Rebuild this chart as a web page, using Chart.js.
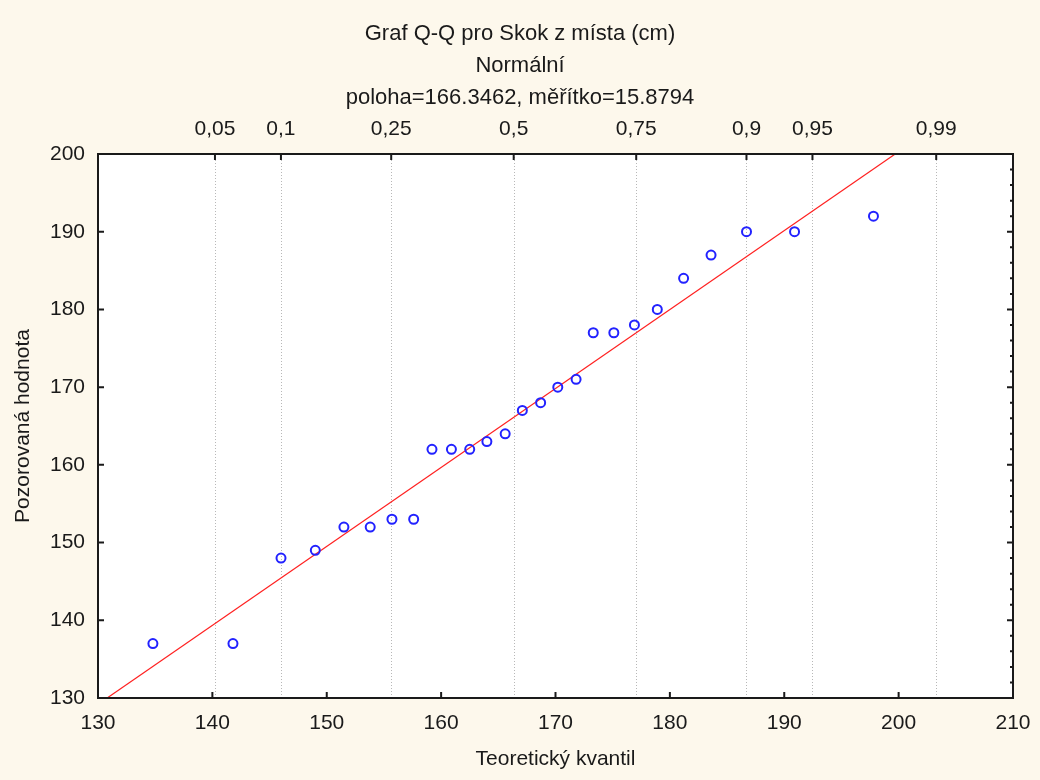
<!DOCTYPE html>
<html lang="cs">
<head>
<meta charset="utf-8">
<title>Graf Q-Q pro Skok z místa (cm)</title>
<script src="https://cdn.jsdelivr.net/npm/chart.js@4/dist/chart.umd.min.js"></script>
<style>
  html, body { margin: 0; padding: 0; background: #fdf8ec; }
  #wrap { width: 1040px; height: 780px; }
</style>
</head>
<body>
<div id="wrap"><canvas id="qq" width="1040" height="780"></canvas></div>
<script>
// teoretické kvantily (osa x) a pozorované hodnoty (osa y)
const theoretical = [134.8, 141.8, 146.0, 149.0, 151.5, 153.8, 155.7, 157.6, 159.2, 160.9, 162.5,
  164.0, 165.6, 167.1, 168.7, 170.2, 171.8, 173.3, 175.1, 176.9, 178.9, 181.2, 183.6, 186.7, 190.9, 197.8];
const observed = [137, 137, 148, 149, 152, 152, 153, 153, 162, 162, 162,
  163, 164, 167, 168, 170, 171, 177, 177, 178, 180, 184, 187, 190, 190, 192];

// referenční přímka
const lineX = [130.8, 199.7];
const lineY = [130, 200];

// parametry normálního rozdělení a pravděpodobnosti na horní ose
const poloha = 166.3462;
const meritko = 15.8794;
const probLabels = ['0,05', '0,1', '0,25', '0,5', '0,75', '0,9', '0,95', '0,99'];
const probZ = [-1.6449, -1.2816, -0.6745, 0, 0.6745, 1.2816, 1.6449, 2.3263];
const probPos = probZ.map(z => poloha + meritko * z);

const FONT = 'Liberation Sans, Arial, sans-serif';

// pozadí, tečkované čáry kvantilů, rámeček a dovnitř mířící značky os
const qqFrame = {
  id: 'qqFrame',
  beforeDraw(chart) {
    const { ctx, chartArea: a } = chart;
    ctx.save();
    ctx.fillStyle = '#fdf8ec';
    ctx.fillRect(0, 0, chart.width, chart.height);
    ctx.fillStyle = '#ffffff';
    ctx.fillRect(a.left, a.top, a.right - a.left, a.bottom - a.top);
    ctx.restore();
  },
  beforeDatasetsDraw(chart) {
    const { ctx, chartArea: a } = chart;
    const x = chart.scales.x;
    ctx.save();
    ctx.strokeStyle = '#b8b8b8';
    ctx.lineWidth = 1;
    ctx.setLineDash([1, 2]);
    probPos.forEach(v => {
      const px = Math.round(x.getPixelForValue(v)) + 0.5;
      ctx.beginPath();
      ctx.moveTo(px, a.top);
      ctx.lineTo(px, a.bottom);
      ctx.stroke();
    });
    ctx.restore();
  },
  afterDraw(chart) {
    const { ctx, chartArea: a } = chart;
    const x = chart.scales.x;
    const y = chart.scales.y;
    ctx.save();
    ctx.strokeStyle = '#1a1a1a';
    ctx.lineWidth = 2;
    ctx.strokeRect(a.left, a.top, a.right - a.left, a.bottom - a.top);

    const tick = 6;
    ctx.beginPath();
    // spodní osa
    for (let v = x.min + 10; v < x.max; v += 10) {
      const px = x.getPixelForValue(v);
      ctx.moveTo(px, a.bottom);
      ctx.lineTo(px, a.bottom - tick);
    }
    // horní osa
    probPos.forEach(v => {
      const px = x.getPixelForValue(v);
      ctx.moveTo(px, a.top);
      ctx.lineTo(px, a.top + tick);
    });
    // levá osa
    for (let v = y.min + 10; v < y.max; v += 10) {
      const py = y.getPixelForValue(v);
      ctx.moveTo(a.left, py);
      ctx.lineTo(a.left + tick, py);
    }
    // pravá osa s vedlejšími značkami
    for (let v = y.min + 2; v < y.max; v += 2) {
      const py = y.getPixelForValue(v);
      const len = (v - y.min) % 10 === 0 ? tick : 3;
      ctx.moveTo(a.right, py);
      ctx.lineTo(a.right - len, py);
    }
    ctx.stroke();
    ctx.restore();
  }
};

// pevná výška a okraje vodorovných os
function fixHorizontal(height) {
  return function(scale) {
    scale.height = height;
    scale.paddingLeft = 0;
    scale.paddingRight = 27;
  };
}

const points = theoretical.map((v, i) => ({ x: v, y: observed[i] }));
const refLine = lineX.map((v, i) => ({ x: v, y: lineY[i] }));

new Chart(document.getElementById('qq'), {
  type: 'scatter',
  data: {
    datasets: [{
      label: 'Skok z místa',
      data: points,
      pointStyle: 'circle',
      pointRadius: 4.5,
      pointHoverRadius: 4.5,
      borderColor: '#2222ff',
      backgroundColor: 'rgba(0,0,0,0)',
      borderWidth: 2
    }, {
      type: 'line',
      label: 'přímka',
      data: refLine,
      borderColor: '#ff2020',
      borderWidth: 1.2,
      pointRadius: 0,
      fill: false
    }]
  },
  options: {
    responsive: false,
    animation: false,
    layout: { autoPadding: false, padding: 0 },
    plugins: {
      legend: { display: false },
      tooltip: { enabled: false },
      title: {
        display: true,
        text: ['Graf Q-Q pro Skok z místa (cm)', 'Normální', 'poloha=166.3462, měřítko=15.8794'],
        color: '#1a1a1a',
        font: { family: FONT, size: 22, weight: 'normal', lineHeight: 32 / 22 },
        padding: { top: 18, bottom: 0 }
      }
    },
    scales: {
      x: {
        type: 'linear',
        position: 'bottom',
        min: 130,
        max: 210,
        afterFit: fixHorizontal(82),
        grid: { display: false, drawTicks: false },
        border: { display: false },
        ticks: {
          stepSize: 10,
          padding: 13,
          color: '#1a1a1a',
          font: { family: FONT, size: 21 }
        },
        title: {
          display: true,
          text: 'Teoretický kvantil',
          color: '#1a1a1a',
          font: { family: FONT, size: 21 },
          padding: { top: 8, bottom: 8 }
        }
      },
      x2: {
        type: 'linear',
        position: 'top',
        min: 130,
        max: 210,
        afterBuildTicks(scale) { scale.ticks = probPos.map(v => ({ value: v })); },
        afterFit: fixHorizontal(40),
        grid: { display: false, drawTicks: false },
        border: { display: false },
        ticks: {
          autoSkip: false,
          maxRotation: 0,
          padding: 12,
          color: '#1a1a1a',
          font: { family: FONT, size: 21 },
          callback: (v, i) => probLabels[i]
        }
      },
      y: {
        type: 'linear',
        position: 'left',
        min: 130,
        max: 200,
        afterFit(scale) { scale.width = 98; },
        grid: { display: false, drawTicks: false },
        border: { display: false },
        ticks: {
          stepSize: 10,
          padding: 13,
          color: '#1a1a1a',
          font: { family: FONT, size: 21 }
        },
        title: {
          display: true,
          text: 'Pozorovaná hodnota',
          color: '#1a1a1a',
          font: { family: FONT, size: 21 },
          padding: { top: 11, bottom: 11 }
        }
      }
    }
  },
  plugins: [qqFrame]
});
</script>
</body>
</html>
